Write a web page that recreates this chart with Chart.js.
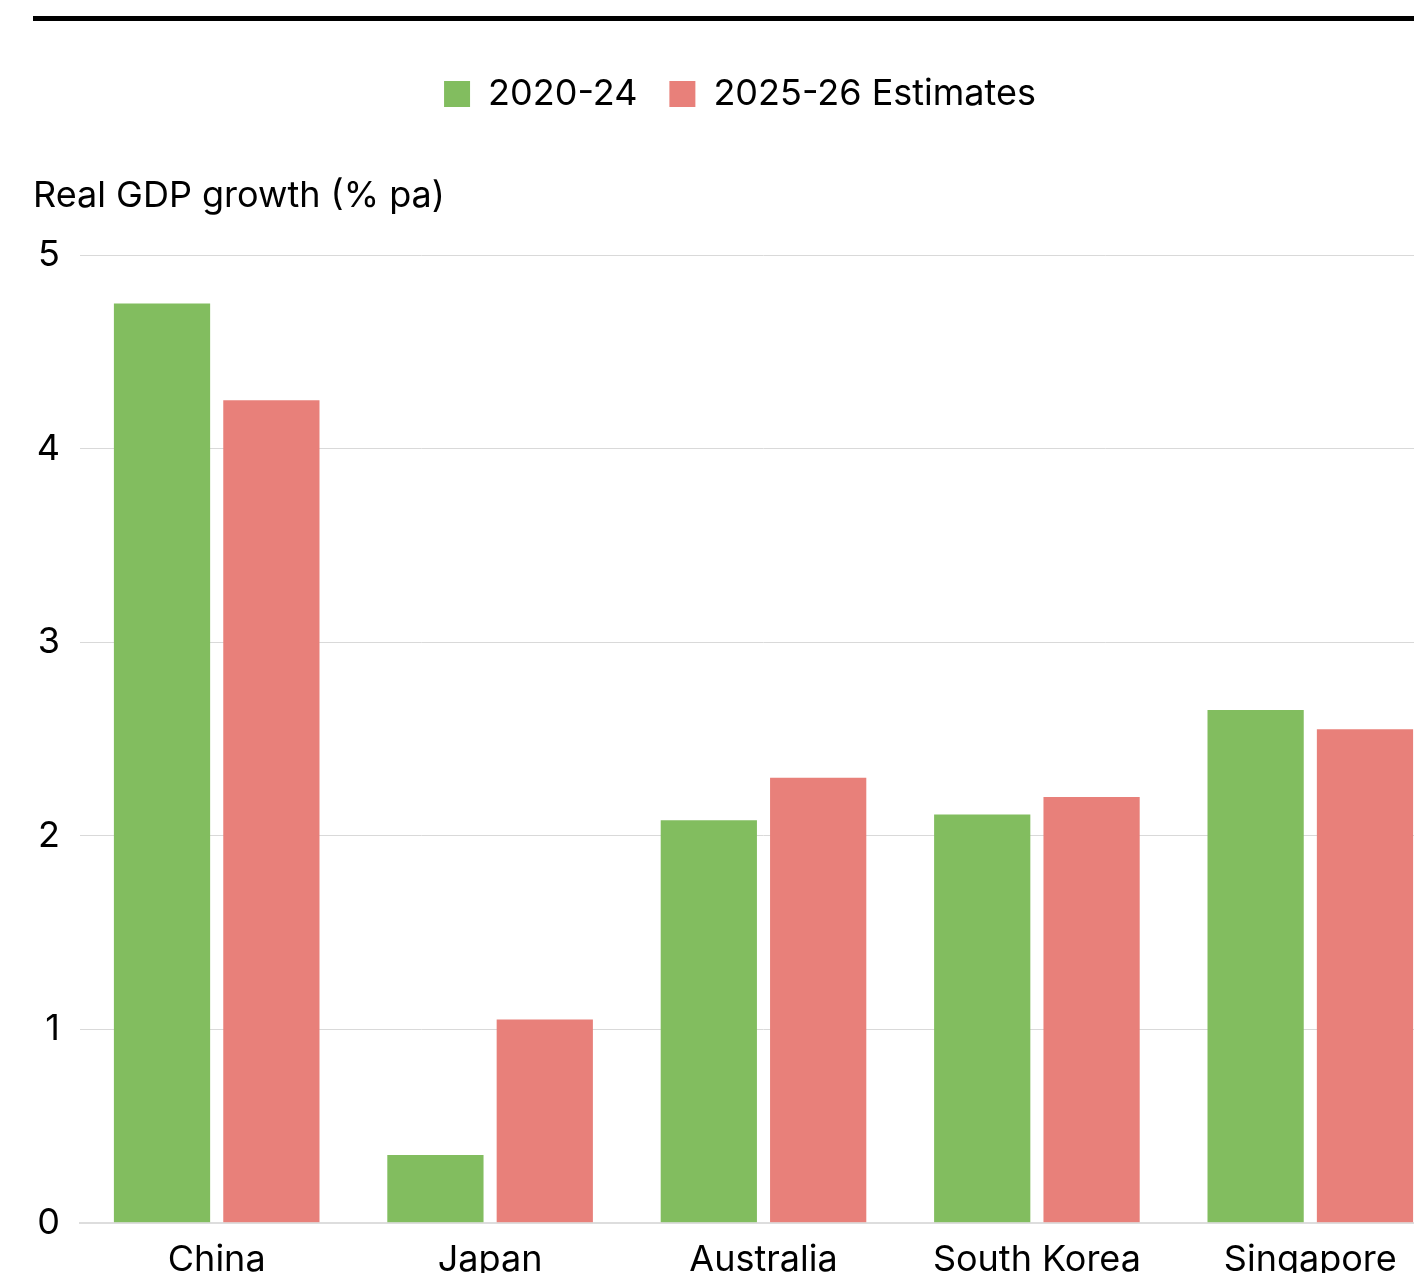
<!DOCTYPE html>
<html>
<head>
<meta charset="utf-8">
<script src="https://cdn.jsdelivr.net/npm/chart.js@4.4.1/dist/chart.umd.min.js"></script>
<style>
  html, body { margin: 0; padding: 0; background: #fff; overflow: hidden; }
  #wrap { position: relative; width: 1414px; height: 1273px; overflow: hidden; }
  #rule { position: absolute; top: 16px; left: 33px; width: 1500px; height: 5px; background: #000; }
  #growth { position: absolute; top: 0; left: 0; }
</style>
</head>
<body>
<div id="wrap">
  <div id="rule"></div>
  <canvas id="growth" width="1460" height="1290"></canvas>
</div>
<script>
const countries = ['China', 'Japan', 'Australia', 'South Korea', 'Singapore'];
const past_growth = [4.75, 0.35, 2.08, 2.11, 2.65];
const estimate_growth = [4.25, 1.05, 2.30, 2.20, 2.55];
const y_ticks = [0, 1, 2, 3, 4, 5];

const green = '#82bd5f';
const red = '#e8807a';
const font_family = "Inter, 'Noto Sans', sans-serif";

const ctx = document.getElementById('growth').getContext('2d');

const chart = new Chart(ctx, {
  type: 'bar',
  data: {
    labels: countries,
    datasets: [{
      label: '2020-24',
      data: past_growth,
      backgroundColor: green,
      categoryPercentage: 0.8,
      barPercentage: 0.88,
    }, {
      label: '2025-26 Estimates',
      data: estimate_growth,
      backgroundColor: red,
      categoryPercentage: 0.8,
      barPercentage: 0.88,
    }]
  },
  options: {
    responsive: false,
    animation: false,
    devicePixelRatio: 1,
    layout: {
      padding: { top: 44, left: 33, right: 13, bottom: 0 }
    },
    plugins: {
      legend: {
        display: true,
        position: 'top',
        labels: {
          boxWidth: 26,
          boxHeight: 26,
          padding: 32,
          color: '#000',
          font: { family: font_family, size: 36 }
        }
      },
      title: {
        display: true,
        text: 'Real GDP growth (% pa)',
        align: 'start',
        weight: 500,
        color: '#000',
        font: { family: font_family, size: 36, weight: 'normal' },
        padding: { top: 53, bottom: 37 }
      },
      tooltip: { enabled: false }
    },
    scales: {
      y: {
        min: 0,
        max: 5,
        afterBuildTicks: (axis) => {
          axis.ticks = y_ticks.map(v => ({ value: v }));
        },
        afterFit: (axis) => { axis.width = 47; },
        border: { display: false },
        grid: {
          color: '#d9d9d9',
          lineWidth: 1,
          drawTicks: false
        },
        ticks: {
          color: '#000',
          padding: 20,
          font: { family: font_family, size: 36 }
        }
      },
      x: {
        border: { display: true, color: '#dddddd', width: 2 },
        grid: { display: false },
        ticks: {
          color: '#000',
          padding: 8,
          font: { family: font_family, size: 36 }
        }
      }
    }
  }
});
</script>
</body>
</html>
